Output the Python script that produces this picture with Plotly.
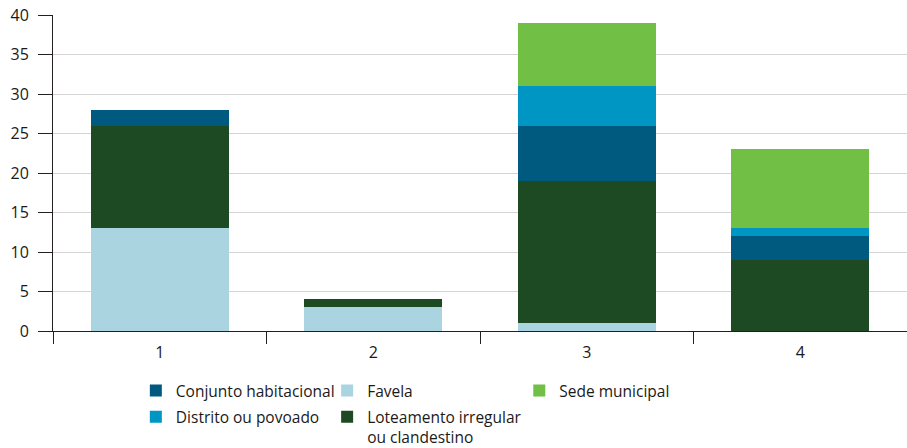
import plotly.graph_objects as go

# ==========================
# DATA
# ==========================

categories = ["1", "2", "3", "4"]

favela = [13, 3, 1, 0]
loteamento = [13, 1, 18, 9]
conjunto = [2, 0, 7, 3]
distrito = [0, 0, 5, 1]
sede = [0, 0, 8, 10]

y_ticks = [0, 5, 10, 15, 20, 25, 30, 35, 40]

# ==========================
# STYLE
# ==========================

FONT = "Open Sans"
TEXT = "#1a1a1a"

# bottom-to-top stacking order; legend columns are handled by three legends
series = [
    ("Favela", favela, "#a9d4e0", "legend2", 1),
    ("Loteamento irregular<br>ou clandestino", loteamento, "#1d4a22", "legend2", 2),
    ("Conjunto habitacional", conjunto, "#005a80", "legend", 1),
    ("Distrito ou povoado", distrito, "#0096c3", "legend", 2),
    ("Sede municipal", sede, "#72bf45", "legend3", 1),
]

fig = go.Figure()

for name, values, color, leg, rank in series:
    fig.add_trace(go.Bar(
        x=categories,
        y=values,
        name=name,
        marker=dict(color=color, line=dict(width=0)),
        legend=leg,
        legendrank=rank,
        legendgroup=name,
    ))

legend_common = dict(
    orientation="v",
    yanchor="top",
    y=-0.136,
    xanchor="left",
    font=dict(family=FONT, size=15.5, color=TEXT),
    bgcolor="rgba(0,0,0,0)",
    traceorder="grouped",
    valign="top",
    tracegroupgap=3,
)

fig.update_layout(
    width=907,
    height=448,
    margin=dict(l=53, r=0, t=15, b=117, autoexpand=False),
    paper_bgcolor="white",
    plot_bgcolor="white",
    barmode="stack",
    bargap=0.354,
    font=dict(family=FONT, size=16, color=TEXT),
    showlegend=True,
    legend=dict(x=0.097, **legend_common),
    legend2=dict(x=0.321, **legend_common),
    legend3=dict(x=0.546, **legend_common),
)

fig.update_xaxes(
    type="category",
    range=[-0.5, 3.5],
    tickson="boundaries",
    ticks="outside",
    ticklen=12,
    tickcolor="#231f20",
    ticklabelstandoff=7,
    showline=True,
    linecolor="#231f20",
    linewidth=1,
    showgrid=False,
    automargin=False,
    tickfont=dict(family=FONT, size=16, color=TEXT),
)

fig.update_yaxes(
    range=[0, 40],
    tickvals=y_ticks,
    ticks="outside",
    ticklen=14,
    tickcolor="#231f20",
    ticklabelstandoff=6,
    showline=True,
    linecolor="#231f20",
    linewidth=1,
    showgrid=True,
    gridcolor="#d4d4d4",
    gridwidth=1,
    zeroline=False,
    automargin=False,
    tickfont=dict(family=FONT, size=16, color=TEXT),
)

# the page's default body margin would shift the chart by 8px
fig.write_html(
    "out.html",
    config={"displayModeBar": False},
    post_script="document.body.style.margin='0';",
)
